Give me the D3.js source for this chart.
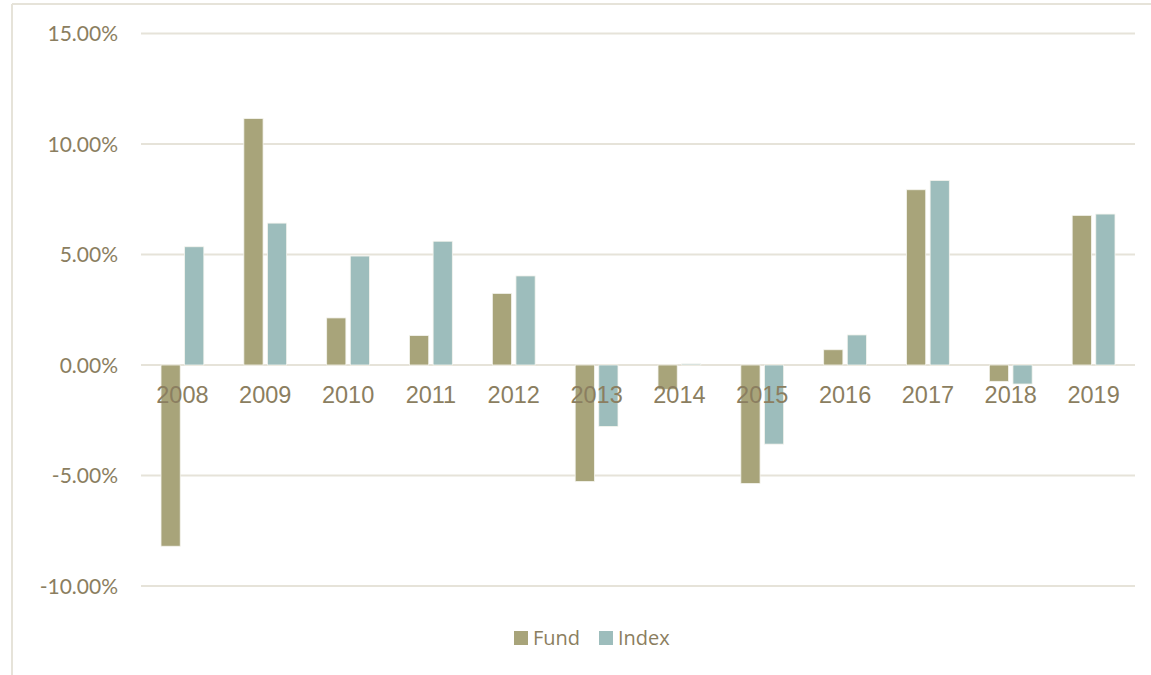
<!DOCTYPE html>
<html>
<head>
<meta charset="utf-8">
<script src="https://cdn.jsdelivr.net/npm/d3@7"></script>
<style>
  html, body { margin: 0; padding: 0; background: #fff; }
  svg { display: block; }
</style>
</head>
<body>
<svg id="chart" width="1151" height="675"></svg>
<script>
const categories = ["2008","2009","2010","2011","2012","2013","2014","2015","2016","2017","2018","2019"];
const seriesNames = ["Fund", "Index"];
const fundValues  = [-8.2, 11.15, 2.13, 1.33, 3.24, -5.27, -1.1, -5.36, 0.69, 7.93, -0.74, 6.77];
const indexValues = [5.35, 6.42, 4.93, 5.6, 4.03, -2.78, 0.05, -3.58, 1.36, 8.35, -0.86, 6.83];
const yTicks = [-10, -5, 0, 5, 10, 15];
const colors = ["#a8a47a", "#9dbdbc"];

const svg = d3.select("#chart");
const W = 1151, H = 675;
const margin = { left: 141, right: 16, top: 33.5, bottom: 89.5 };
const textColor = "#8b7e60";
const gridColor = "#e6e3d9";

// outer frame
svg.append("line").attr("x1", 12).attr("x2", W).attr("y1", 4).attr("y2", 4)
  .attr("stroke", gridColor).attr("stroke-width", 2);
svg.append("line").attr("x1", 12).attr("x2", 12).attr("y1", 4).attr("y2", H)
  .attr("stroke", gridColor).attr("stroke-width", 2);

const x = d3.scaleBand().domain(categories)
  .range([margin.left, W - margin.right]).paddingInner(0).paddingOuter(0);
const y = d3.scaleLinear().domain([-10, 15]).range([586, 33.5]);

// gridlines
svg.append("g").selectAll("line").data(yTicks).join("line")
  .attr("x1", margin.left).attr("x2", W - margin.right)
  .attr("y1", d => y(d)).attr("y2", d => y(d))
  .attr("stroke", gridColor).attr("stroke-width", 1.8);

// y axis labels
const fmt = d3.formatLocale({ decimal: ".", thousands: ",", grouping: [3], currency: ["", ""], minus: "-" }).format(".2f");
const yAxis = d3.axisLeft(y).tickValues(yTicks)
  .tickFormat(d => fmt(d) + "%").tickSize(0).tickPadding(0);
const yg = svg.append("g").attr("transform", "translate(118,0)").call(yAxis);
yg.select(".domain").remove();
yg.selectAll("text").attr("fill", textColor)
  .style("font-family", "Lato, 'Open Sans', sans-serif").style("font-size", "21px")
  .attr("dy", "0.35em");

// bars
const barW = 19.2, gap = 4.4;
const data = categories.map((c, i) => ({ cat: c, vals: [fundValues[i], indexValues[i]] }));
const groups = svg.append("g").selectAll("g").data(data).join("g");
groups.selectAll("rect").data(d => d.vals.map((v, s) => ({ cat: d.cat, v, s }))).join("rect")
  .attr("x", d => x(d.cat) + x.bandwidth() / 2 + (d.s === 0 ? -gap / 2 - barW : gap / 2))
  .attr("width", barW)
  .attr("y", d => Math.min(y(d.v), y(0)))
  .attr("height", d => Math.abs(y(d.v) - y(0)))
  .attr("fill", d => colors[d.s])
  .attr("stroke", "#f4f4ee").attr("stroke-width", 0.8);

// x category labels (drawn on top of bars)
const xAxis = d3.axisBottom(x).tickSize(0).tickPadding(0);
const xg = svg.append("g").attr("transform", "translate(0,386)").call(xAxis);
xg.select(".domain").remove();
xg.selectAll("text").attr("fill", textColor)
  .style("font-family", "'Liberation Sans', Arial, sans-serif").style("font-size", "23.5px")
  .attr("dy", "0.72em");

// legend
const legend = svg.append("g");
const legendItems = [{ name: seriesNames[0], c: colors[0], x: 514 }, { name: seriesNames[1], c: colors[1], x: 599 }];
legendItems.forEach(it => {
  legend.append("rect").attr("x", it.x).attr("y", 631).attr("width", 14).attr("height", 14).attr("fill", it.c);
  legend.append("text").attr("x", it.x + 19).attr("y", 638).attr("dy", "0.36em")
    .attr("fill", textColor).style("font-family", "'Open Sans', sans-serif").style("font-size", "20px")
    .text(it.name);
});
</script>
</body>
</html>
